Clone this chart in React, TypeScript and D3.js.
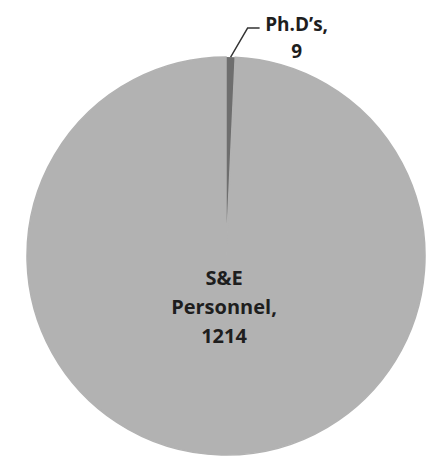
import React, { useEffect, useRef } from 'react';
import * as d3 from 'd3';

const categories = ['Ph.D\u2019s', 'S&E Personnel'];
const values = [9, 1214];
const sliceColors = ['#6e6e6e', '#b2b2b2'];

const App: React.FC = () => {
  const svgRef = useRef<SVGSVGElement | null>(null);

  useEffect(() => {
    if (!svgRef.current) return;
    const width = 436;
    const height = 457;
    const cx = 226;
    const cy = 256;
    const radius = 199;

    const svg = d3.select(svgRef.current);
    svg.selectAll('*').remove();
    svg.attr('width', width).attr('height', height).attr('viewBox', `0 0 ${width} ${height}`);

    svg.append('rect').attr('width', width).attr('height', height).attr('fill', '#ffffff');

    const data = categories.map((c, i) => ({ name: c, value: values[i] }));
    const pie = d3
      .pie<{ name: string; value: number }>()
      .sort(null)
      .value((d) => d.value);
    const arcs = pie(data);
    const arc = d3.arc<d3.PieArcDatum<{ name: string; value: number }>>().innerRadius(0).outerRadius(radius);

    const g = svg.append('g').attr('transform', `translate(${cx},${cy})`);

    g.selectAll('path')
      .data(arcs)
      .enter()
      .append('path')
      .attr('d', arc)
      .attr('fill', (_, i) => sliceColors[i])
      .attr('stroke', (_, i) => (i === 1 ? sliceColors[1] : 'none'))
      .attr('stroke-width', 1.5);

    const font = '"Open Sans", Lato, sans-serif';

    // small slice: label outside with a leader line
    const small = arcs[0];
    const mid = (small.startAngle + small.endAngle) / 2;
    const px = Math.sin(mid) * radius;
    const py = -Math.cos(mid) * radius;
    const elbow: [number, number] = [px + 17, py - 29];
    const end: [number, number] = [elbow[0] + 12, elbow[1]];
    g.append('path')
      .attr('d', d3.line()([[px, py], elbow, end]) || '')
      .attr('fill', 'none')
      .attr('stroke', '#333333')
      .attr('stroke-width', 1.4);

    const smallLabel = g
      .append('text')
      .attr('font-family', font)
      .attr('font-weight', 'bold')
      .attr('font-size', 19)
      .attr('fill', '#1e1e1e')
      .attr('text-anchor', 'middle');
    smallLabel
      .append('tspan')
      .attr('x', end[0] + 37)
      .attr('y', elbow[1] + 3)
      .text(`${small.data.name},`);
    smallLabel
      .append('tspan')
      .attr('x', end[0] + 37)
      .attr('dy', 27)
      .text(String(small.data.value));

    // big slice: label inside, centered
    const big = arcs[1];
    const bigLabel = g
      .append('text')
      .attr('font-family', font)
      .attr('font-weight', 'bold')
      .attr('font-size', 20)
      .attr('fill', '#1e1e1e')
      .attr('text-anchor', 'middle');
    const lines = ['S&E', 'Personnel,', String(big.data.value)];
    lines.forEach((t, i) => {
      bigLabel
        .append('tspan')
        .attr('x', -2)
        .attr('y', 29 + i * 29)
        .text(t);
    });
  }, []);

  return (
    <div style={{ position: 'absolute', left: 0, top: 0, width: 436, height: 457 }}>
      <svg ref={svgRef} style={{ display: 'block' }} />
    </div>
  );
};

export default App;
